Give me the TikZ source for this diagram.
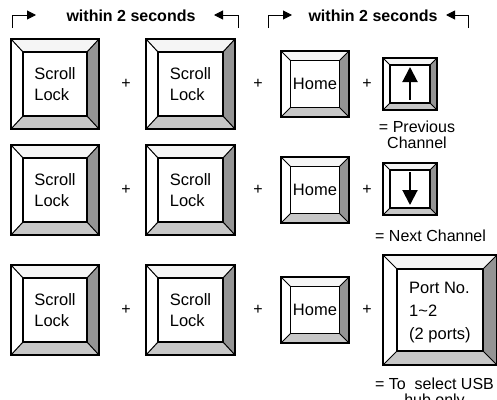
\documentclass[tikz,border=0pt]{standalone}
\usepackage{fontspec}
\setmainfont{Liberation Sans}
\usetikzlibrary{arrows.meta}
\tikzset{
  x=1pt,y=-1pt,
  keyouter/.style={inner sep=0, outer sep=0},
  keyinner/.style={inner sep=0, outer sep=0},
  bevelT/.style={fill=black!4},
  bevelL/.style={fill=white},
  bevelR/.style={fill=black!42},
  bevelB/.style={fill=black!22},
  keyline/.style={line width=1.3pt},
  innerline/.style={line width=1.9pt, fill=white},
  diag/.style={line width=1pt},
  keytext/.style={font=\fontsize{16.5}{21}\selectfont, align=left, inner sep=0},
  porttext/.style={font=\fontsize{16.5}{23}\selectfont, align=left, inner sep=0},
  plussign/.style={font=\fontsize{16}{19}\selectfont, inner sep=0},
  header/.style={font=\bfseries\fontsize{16}{19}\selectfont, inner sep=0},
  bracket/.style={line width=1pt, -{Triangle[length=9pt,width=9pt]}},
  caption/.style={font=\fontsize{16}{16.5}\selectfont, align=center, inner sep=0},
  arrowglyph/.style={line width=2pt, -{Triangle[length=15pt,width=15pt]}},
}
\newcommand{\kbkey}[7]{%
  \node[keyouter, minimum width=#4pt, minimum height=#5pt] (#1) at (#2,#3) {};
  \node[keyinner, minimum width=#6pt, minimum height=#7pt] (#1-in) at (#2,#3) {};
  \fill[bevelT] (#1.north west) -- (#1.north east) -- (#1-in.north east) -- (#1-in.north west) -- cycle;
  \fill[bevelL] (#1.north west) -- (#1-in.north west) -- (#1-in.south west) -- (#1.south west) -- cycle;
  \fill[bevelR] (#1.north east) -- (#1.south east) -- (#1-in.south east) -- (#1-in.north east) -- cycle;
  \fill[bevelB] (#1.south west) -- (#1-in.south west) -- (#1-in.south east) -- (#1.south east) -- cycle;
  \draw[diag] (#1.north west) -- (#1-in.north west);
  \draw[diag] (#1.north east) -- (#1-in.north east);
  \draw[diag] (#1.south west) -- (#1-in.south west);
  \draw[diag] (#1.south east) -- (#1-in.south east);
  \draw[innerline] (#1-in.north west) rectangle (#1-in.south east);
  \draw[keyline] (#1.north west) rectangle (#1.south east);
}
\begin{document}
\begin{tikzpicture}
\clip (0,0) rectangle (497,399);
\fill[white] (0,0) rectangle (497,399);

% headers
\coordinate (h1a) at (12,28); \coordinate (h1b) at (12,15); \coordinate (h1c) at (36,15);
\coordinate (h2a) at (238,28); \coordinate (h2b) at (238,15); \coordinate (h2c) at (214,15);
\coordinate (h3a) at (268,28); \coordinate (h3b) at (268,15); \coordinate (h3c) at (292,15);
\coordinate (h4a) at (468,28); \coordinate (h4b) at (468,15); \coordinate (h4c) at (446,15);
\draw[bracket] (h1a) -- (h1b) -- (h1c);
\draw[bracket] (h2a) -- (h2b) -- (h2c);
\draw[bracket] (h3a) -- (h3b) -- (h3c);
\draw[bracket] (h4a) -- (h4b) -- (h4c);
\node[header] (t1) at (131,16) {within 2 seconds};
\node[header] (t2) at (373,16) {within 2 seconds};

% rows
\foreach \r/\y in {1/84, 2/190, 3/310} {
  \kbkey{sa\r}{55}{\y}{88}{90}{64}{64}
  \node[keytext] (sat\r) at (sa\r-in) {Scroll\\Lock};
  \kbkey{sb\r}{190.5}{\y}{89}{90}{65}{64}
  \node[keytext] (sbt\r) at (sb\r-in) {Scroll\\Lock};
  \kbkey{hm\r}{315}{\y}{68}{66}{49}{47}
  \node[keytext] (hmt\r) at (hm\r-in) {Home};
  \node[plussign] (pa\r) at (126,\y) {+};
  \node[plussign] (pb\r) at (258,\y) {+};
  \node[plussign] (pc\r) at (367,\y) {+};
}

% arrow keys
\kbkey{up}{410}{84}{54}{52}{40}{38}
\draw[arrowglyph] ([yshift=3pt]up-in.south) -- ([yshift=-2pt]up-in.north);
\kbkey{dn}{410}{189}{54}{52}{40}{38}
\draw[arrowglyph] ([yshift=-2pt]dn-in.north) -- ([yshift=3pt]dn-in.south);

% port key
\kbkey{pt}{440}{310}{114}{110}{86}{82}
\node[porttext, anchor=west] (ptt) at (409,313) {Port No.\\1\char"007E 2\\(2 ports)};

% captions
\node[caption] (c1) at (417,135) {= Previous\\Channel};
\node[caption, anchor=west] (c2) at (375,236) {= Next Channel};
\node[caption] (c3) at (434.5,393.5) {= To\ \ select USB\\hub only};
\end{tikzpicture}
\end{document}
